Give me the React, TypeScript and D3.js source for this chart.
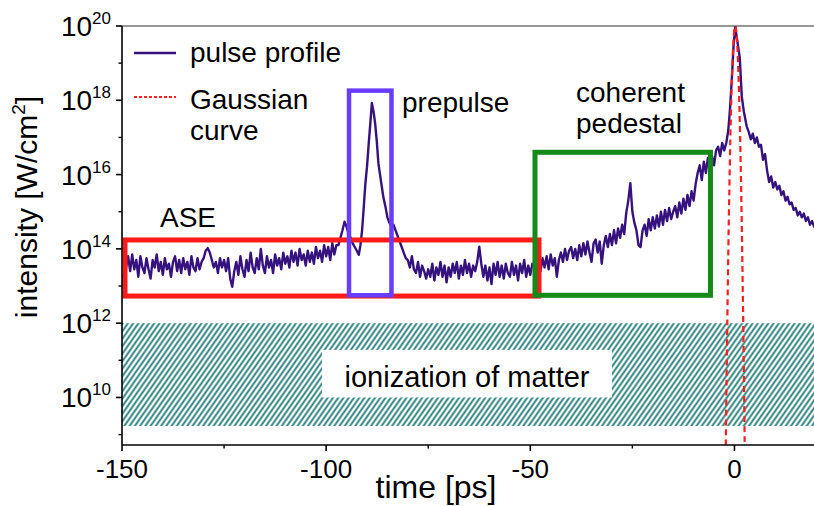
import React from "react";
import * as d3 from "d3";

const W = 814;
const H = 506;
const FONT = "'Liberation Sans', Arial, Helvetica, sans-serif";

// axes
const xDomain = [-150, 20];
const yLogDomain = [8.72, 20];
const xTicksMajor = [-150, -100, -50, 0];
const xTicksMinor = [-125, -75, -25];
const yTicksMajor = [10, 12, 14, 16, 18, 20];
const yTicksMinor = [9, 11, 13, 15, 17, 19];

// pulse profile, log10 intensity. Regular-sampled segments (start, step 0.5 ps)
const sampleStep = 0.5;
const aseStart = -150;
const aseValues = [
  13.3, 12.95, 13.5, 13.8, 13.4, 13.85, 13.45, 13.7, 13.25, 13.8,
  13.5, 13.35, 13.75, 13.45, 13.2, 13.7, 13.5, 13.85, 13.4, 13.65,
  13.3, 13.75, 13.45, 13.6, 13.25, 13.65, 13.8, 13.4, 13.7, 13.35,
  13.75, 13.45, 13.65, 13.3, 13.8, 13.5, 13.4, 13.75, 13.45, 13.65,
  13.75, 13.95, 14.02, 13.9, 13.7, 13.5, 13.65, 13.35, 13.75, 13.5,
  13.7, 13.4, 13.75, 13.2, 12.98, 13.4, 13.65, 13.3, 13.8, 13.45,
  13.25, 13.7, 13.4, 13.9, 13.5, 13.35, 13.75, 13.45, 14.0, 13.55,
  13.35, 13.8, 13.5, 13.7, 13.35, 13.85, 13.55, 13.75, 13.45, 13.9,
  13.6, 13.8, 13.5, 13.95, 13.65, 13.9, 13.55, 14.0, 13.7, 13.85,
  13.55, 13.95, 13.65, 13.9, 13.6, 14.05, 13.75, 13.95, 13.65, 14.1,
  13.8, 14.05, 13.7, 14.15, 13.85, 14.1,
];
const prepulseTimes = [
  -97, -96.5, -96, -95.5, -95, -94.5, -94, -93.5, -93, -92.5, -92, -91.6, -91.2,
  -90.8, -90.4, -90, -89.6, -89.2, -88.8, -88.4, -88, -87.6, -87.2, -86.8, -86.4,
  -86, -85.5, -85, -84.5, -84, -83.5, -83, -82.5, -82, -81.5, -81, -80.5,
];
const prepulseValues = [
  14.1, 14.3, 14.5, 14.73, 14.6, 14.4, 14.3, 14.15, 14.05, 13.95, 13.84, 14.1, 14.5,
  15.1, 15.75, 16.2, 16.8, 17.35, 17.93, 17.7, 17.38, 16.9, 16.3, 16.0, 15.7,
  15.4, 15.15, 14.85, 14.7, 14.62, 14.65, 14.5, 14.35, 14.2, 14.05, 13.9, 13.75,
];
const midStart = -80;
const midValues = [
  13.7, 13.5, 13.8, 13.45, 13.35, 13.65, 13.25, 13.55, 13.4, 13.2,
  13.45, 13.25, 13.6, 13.15, 13.5, 13.3, 13.65, 13.25, 13.55, 13.1,
  13.5, 13.25, 13.6, 13.35, 13.65, 13.2, 13.55, 13.3, 13.7, 13.35,
  13.6, 13.25, 13.55, 13.4, 13.65, 14.06, 13.6, 13.25, 13.55, 13.15,
  13.5, 13.05, 13.6, 13.3, 13.65, 13.25, 13.55, 13.2, 13.6, 13.35,
  13.25, 13.65, 13.3, 13.55, 13.15, 13.6, 13.35, 13.7, 13.25, 13.55,
  13.3, 13.6,
];
const pedestalStart = -49;
const pedestalValues = [
  13.5, 13.3, 13.65, 13.4, 13.75, 13.5, 13.8, 13.45, 13.85, 13.55,
  13.75, 13.25, 13.7, 13.9, 13.65, 14.0, 13.7, 13.95, 14.05, 13.75,
  14.0, 13.7, 14.1, 13.8, 14.15, 13.85, 14.2, 13.9, 13.65, 14.15,
  14.25, 13.9, 14.2, 13.6, 14.1, 14.35, 14.05, 14.4, 14.1, 14.5,
  14.15, 14.55, 14.3, 14.65, 14.4, 14.97, 15.3, 15.77, 15.0, 14.7,
  14.5, 14.1, 14.05, 14.5, 14.65, 14.35, 14.8, 14.5, 14.85, 14.55,
  14.9, 14.6, 15.0, 14.65, 15.05, 14.75, 15.1, 14.8, 15.0, 15.15,
  14.85, 15.25, 14.95, 15.35, 15.05, 15.45, 15.15, 15.55, 15.3, 15.75,
  16.05, 16.25, 15.85, 16.35, 16.05, 16.45, 16.2, 16.5, 16.25, 16.65,
  16.75, 16.5, 16.85, 16.65, 16.85,
];
const mainTimes = [
  -1.5, -1.1, -0.6, -0.2, 0.2, 0.7, 1.3, 1.8, 2.3, 3.0, 3.5, 4.0, 4.5, 5.0, 5.5,
  6.0, 6.5, 7.0, 7.5, 8.0, 8.5, 9.0, 9.5, 10.0, 10.5, 11.0, 11.5, 12.0, 12.5,
  13.0, 13.5, 14.0, 14.5, 15.0, 15.5, 16.0, 16.5, 17.0, 17.5, 18.0, 18.5, 19.0,
  19.5, 20.0,
];
const mainValues = [
  17.2, 17.75, 18.65, 19.5, 19.97, 19.6, 19.15, 18.1, 17.7, 17.3, 17.15, 16.95,
  17.1, 16.85, 17.0, 16.75, 16.8, 16.4, 16.55, 16.1, 15.8, 15.95, 15.65, 15.8,
  15.6, 15.7, 15.45, 15.55, 15.3, 15.4, 15.2, 15.25, 15.05, 15.1, 14.9, 15.0,
  14.85, 14.95, 14.75, 14.85, 14.65, 14.75, 14.6, 14.7,
];

// Gaussian fit curve (log10 intensity)
const gaussTimes = [
  -2.2, -2.1, -2.0, -1.75, -1.5, -1.25, -1.0, -0.75, -0.5, -0.25, 0, 0.2, 0.5,
  0.75, 1.0, 1.25, 1.5, 1.75, 2.0, 2.25, 2.5, 2.6,
];
const gaussValues = [
  7.9, 8.89, 9.84, 12.01, 13.93, 15.58, 16.98, 18.1, 18.97, 19.57, 19.92, 20,
  19.81, 19.36, 18.66, 17.68, 16.45, 14.95, 13.2, 11.17, 8.89, 7.9,
];

// annotation regions: [t0, t1, log0, log1]
const aseBox = [-149.27, -47.87, 12.73, 14.24];
const prepulseBox = [-94.4, -84.0, 12.75, 18.26];
const pedestalBox = [-48.85, -5.87, 12.75, 16.6];
const ionizationBand = [-150, 20, 9.23, 12];
const ionizationLabelBox = [-101, -30, 10.0, 11.28];

function segment(start: number, values: number[]): [number, number][] {
  return values.map((v, i) => [start + i * sampleStep, v]);
}
function pairs(ts: number[], vs: number[]): [number, number][] {
  return ts.map((t, i) => [t, vs[i]]);
}

export default function App() {
  const x = d3.scaleLinear().domain(xDomain).range([122, 816.1]);
  const y = d3.scaleLog().domain([10 ** yLogDomain[0], 10 ** yLogDomain[1]]).range([445, 26]);
  const yl = (v: number) => y(10 ** v);

  const profile: [number, number][] = [
    ...segment(aseStart, aseValues),
    ...pairs(prepulseTimes, prepulseValues),
    ...segment(midStart, midValues),
    ...segment(pedestalStart, pedestalValues),
    ...pairs(mainTimes, mainValues),
  ].sort((a, b) => a[0] - b[0]);

  const line = d3
    .line<[number, number]>()
    .x((d) => x(d[0]))
    .y((d) => yl(d[1]));
  const gaussLine = d3
    .line<[number, number]>()
    .x((d) => x(d[0]))
    .y((d) => yl(d[1]))
    .curve(d3.curveCatmullRom);

  const rect = (b: number[]) => ({
    x: x(b[0]),
    y: yl(b[3]),
    width: x(b[1]) - x(b[0]),
    height: yl(b[2]) - yl(b[3]),
  });

  const x0 = x(xDomain[0]);
  const yTop = y(10 ** yLogDomain[1]);
  const yBot = y(10 ** yLogDomain[0]);

  return (
    <svg
      width={W}
      height={H}
      style={{ position: "absolute", left: 0, top: 0, background: "#fff" }}
      fontFamily={FONT}
    >
      <defs>
        <pattern
          id="hatch"
          patternUnits="userSpaceOnUse"
          width={4.3}
          height={10}
          patternTransform="rotate(35)"
        >
          <line x1={2.15} y1={0} x2={2.15} y2={10} stroke="#1f7b77" strokeWidth={1.8} />
        </pattern>
        <clipPath id="plot">
          <rect x={x0} y={yTop} width={W - x0} height={yBot - yTop} />
        </clipPath>
      </defs>

      {/* ionization band */}
      <rect {...rect(ionizationBand)} fill="url(#hatch)" />
      <rect {...rect(ionizationLabelBox)} fill="#fff" />
      <text
        x={(x(ionizationLabelBox[0]) + x(ionizationLabelBox[1])) / 2}
        y={387}
        fontSize={29}
        textAnchor="middle"
        fill="#000"
      >
        ionization of matter
      </text>

      {/* pulse profile */}
      <g clipPath="url(#plot)">
        <path d={line(profile) || ""} fill="none" stroke="#35127e" strokeWidth={2.4} strokeLinejoin="round" />
        <path
          d={gaussLine(pairs(gaussTimes, gaussValues)) || ""}
          fill="none"
          stroke="#ff1f1f"
          strokeWidth={2.2}
          strokeDasharray="6,4"
        />
      </g>

      {/* highlight boxes */}
      <rect {...rect(aseBox)} fill="none" stroke="#ff1a1a" strokeWidth={5} />
      <rect {...rect(prepulseBox)} fill="none" stroke="#6a3cff" strokeWidth={4.5} />
      <rect {...rect(pedestalBox)} fill="none" stroke="#148a18" strokeWidth={5} />

      {/* axes */}
      <line x1={x0} y1={yTop} x2={W} y2={yTop} stroke="#333" strokeWidth={1.2} />
      <line x1={x0} y1={yTop} x2={x0} y2={yBot} stroke="#000" strokeWidth={1.6} />
      <line x1={x0} y1={yBot} x2={W} y2={yBot} stroke="#000" strokeWidth={1.6} />
      {xTicksMajor.map((t) => (
        <g key={"xM" + t}>
          <line x1={x(t)} y1={yBot} x2={x(t)} y2={yBot + 6} stroke="#000" strokeWidth={1.6} />
          <text x={x(t)} y={478} fontSize={26} textAnchor="middle" fill="#000">
            {t}
          </text>
        </g>
      ))}
      {xTicksMinor.map((t) => (
        <line key={"xm" + t} x1={x(t)} y1={yBot} x2={x(t)} y2={yBot + 3.5} stroke="#000" strokeWidth={1.4} />
      ))}
      {yTicksMajor.map((e) => (
        <g key={"yM" + e}>
          <line x1={x0 - 6} y1={yl(e)} x2={x0} y2={yl(e)} stroke="#000" strokeWidth={1.6} />
          <text x={111} y={yl(e) + 10} fontSize={28} textAnchor="end" fill="#000">
            10
            <tspan dy={-12} fontSize={17}>
              {e}
            </tspan>
          </text>
        </g>
      ))}
      {yTicksMinor.map((e) => (
        <line key={"ym" + e} x1={x0 - 3.5} y1={yl(e)} x2={x0} y2={yl(e)} stroke="#000" strokeWidth={1.4} />
      ))}

      {/* axis titles */}
      <text x={436} y={498} fontSize={32} textAnchor="middle" fill="#000">
        time [ps]
      </text>
      <text transform="translate(37,207) rotate(-90)" fontSize={30} textAnchor="middle" fill="#000">
        intensity [W/cm
        <tspan dy={-12} fontSize={19}>
          2
        </tspan>
        <tspan dy={12}>]</tspan>
      </text>

      {/* annotations */}
      <text x={160} y={227} fontSize={28} fill="#000">ASE</text>
      <text x={402} y={112} fontSize={28} fill="#000">prepulse</text>
      <text x={576} y={102} fontSize={28} fill="#000">coherent</text>
      <text x={576} y={133} fontSize={28} fill="#000">pedestal</text>

      {/* legend */}
      <line x1={134} y1={53} x2={176} y2={53} stroke="#35127e" strokeWidth={2.5} />
      <text x={190} y={62} fontSize={28} fill="#000">pulse profile</text>
      <line x1={134} y1={97} x2={176} y2={97} stroke="#ff1f1f" strokeWidth={2.2} strokeDasharray="3,2" />
      <text x={190} y={109} fontSize={28} fill="#000">Gaussian</text>
      <text x={190} y={140} fontSize={28} fill="#000">curve</text>
    </svg>
  );
}
